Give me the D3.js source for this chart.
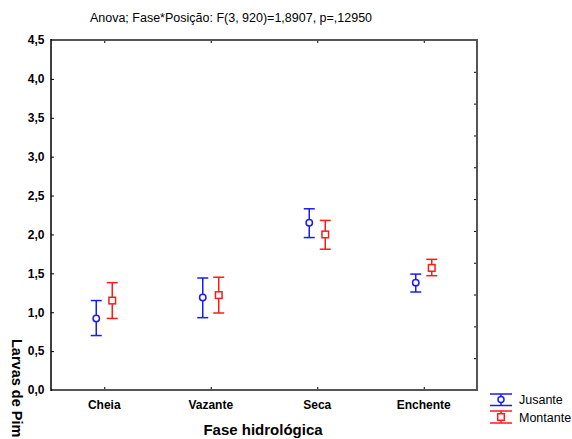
<!DOCTYPE html>
<html><head><meta charset="utf-8">
<script src="https://cdn.jsdelivr.net/npm/d3@7"></script>
<style>body{margin:0;background:#fff}svg{display:block}text{font-family:"Liberation Sans",Arial,sans-serif}</style>
</head><body><svg id="c" width="572" height="439"></svg>
<script>
const categories = ["Cheia","Vazante","Seca","Enchente"];
const seriesNames = ["Jusante","Montante"];
const jusanteMean = [0.92, 1.19, 2.15, 1.38];
const jusanteLow  = [0.70, 0.93, 1.96, 1.26];
const jusanteHigh = [1.15, 1.44, 2.33, 1.49];
const montanteMean = [1.15, 1.22, 2.00, 1.57];
const montanteLow  = [0.92, 0.99, 1.81, 1.47];
const montanteHigh = [1.38, 1.45, 2.18, 1.68];
const yTicks = [0,0.5,1,1.5,2,2.5,3,3.5,4,4.5];
const rightTicks = [1,2,3,4,5,6,7,8,9,10];
const title = "Anova; Fase*Posição: F(3, 920)=1,8907, p=,12950";
const xTitle = "Fase hidrológica";
const yTitle = "Larvas de Pim";

const svg = d3.select("#c");
const L=51, R=477, T=40, B=390;
const x = d3.scaleBand().domain(categories).range([L,R]);
const off = d3.scalePoint().domain(seriesNames).range([-8,8]);
const y = d3.scaleLinear().domain([0,4.5]).range([B,T]);
const y2 = d3.scaleLinear().domain([0,11]).range([B,T]);
const colors = {Jusante:"#1a1aff", Montante:"#ff1a1a"};
const fmt = v => d3.format(".1f")(v).replace(".",",");

// title
svg.append("text").attr("x",231).attr("y",22).attr("text-anchor","middle")
  .attr("font-size",12.5).attr("fill","#000").text(title);

// axes
const gl = svg.append("g").attr("transform",`translate(${L},0)`)
  .call(d3.axisRight(y).tickValues(yTicks).tickSize(3).tickFormat(""));
gl.select(".domain").remove();
gl.selectAll(".tick line").attr("stroke","#000");
svg.append("g").selectAll("text").data(yTicks).join("text")
  .attr("x",44.5).attr("y",d=>y(d)+4.3).attr("text-anchor","end")
  .attr("font-size",12).attr("font-weight","bold").text(fmt);

const gr = svg.append("g").attr("transform",`translate(${R},0)`)
  .call(d3.axisLeft(y2).tickValues(rightTicks).tickSize(3).tickFormat(""));
gr.select(".domain").remove();
gr.selectAll(".tick line").attr("stroke","#000");

const catTicks = categories.map(c=>x(c)+x.bandwidth()/2);
const xs = d3.scaleIdentity();
svg.append("g").attr("transform",`translate(0,${B})`)
  .call(d3.axisTop(xs).tickValues(catTicks).tickSize(3).tickFormat(""))
  .call(g=>{g.select(".domain").remove();g.selectAll(".tick line").attr("stroke","#000");});
svg.append("g").attr("transform",`translate(0,${T})`)
  .call(d3.axisBottom(xs).tickValues(catTicks).tickSize(3).tickFormat(""))
  .call(g=>{g.select(".domain").remove();g.selectAll(".tick line").attr("stroke","#000");});

// frame
svg.append("line").attr("x1",L).attr("x2",R).attr("y1",T).attr("y2",T).attr("stroke","#555").attr("stroke-width",2);
svg.append("line").attr("x1",L).attr("x2",R+1).attr("y1",B).attr("y2",B).attr("stroke","#555").attr("stroke-width",2);
svg.append("line").attr("x1",R).attr("x2",R).attr("y1",T-1).attr("y2",B+1).attr("stroke","#555").attr("stroke-width",2);
svg.append("line").attr("x1",L).attr("x2",L).attr("y1",T-1).attr("y2",B+1).attr("stroke","#000").attr("stroke-width",1.5);

svg.append("g").selectAll("text").data(categories).join("text")
  .attr("x",d=>x(d)+x.bandwidth()/2).attr("y",408.5).attr("text-anchor","middle")
  .attr("font-size",12).attr("font-weight","bold").text(d=>d);

svg.append("text").attr("x",263).attr("y",434.5).attr("text-anchor","middle")
  .attr("font-size",15).attr("font-weight","bold").text(xTitle);
svg.append("text").attr("transform","translate(12,339) rotate(90)")
  .attr("font-size",14.5).attr("font-weight","bold").text(yTitle);

// data
const series = [
  {name:"Jusante", mean:jusanteMean, low:jusanteLow, high:jusanteHigh, shape:"circle"},
  {name:"Montante", mean:montanteMean, low:montanteLow, high:montanteHigh, shape:"square"}
];
const cap = 5.5;
series.forEach(s=>{
  const g = svg.append("g").attr("stroke",colors[s.name]).attr("stroke-width",1.5).attr("fill","#fff");
  categories.forEach((c,i)=>{
    const cx = x(c)+x.bandwidth()/2+off(s.name);
    g.append("line").attr("x1",cx).attr("x2",cx).attr("y1",y(s.low[i])).attr("y2",y(s.high[i]));
    g.append("line").attr("x1",cx-cap).attr("x2",cx+cap).attr("y1",y(s.low[i])).attr("y2",y(s.low[i]));
    g.append("line").attr("x1",cx-cap).attr("x2",cx+cap).attr("y1",y(s.high[i])).attr("y2",y(s.high[i]));
    if(s.shape==="circle") g.append("circle").attr("cx",cx).attr("cy",y(s.mean[i])).attr("r",3.2);
    else g.append("rect").attr("x",cx-3.3).attr("y",y(s.mean[i])-3.3).attr("width",6.6).attr("height",6.6);
  });
});

// legend
const leg = [{name:"Jusante", top:394, mid:399.5, bot:405.5, shape:"circle"},
             {name:"Montante", top:411, mid:417, bot:423, shape:"square"}];
leg.forEach(l=>{
  const g = svg.append("g").attr("stroke",colors[l.name]).attr("stroke-width",1.5).attr("fill","#fff");
  g.append("line").attr("x1",490).attr("x2",512).attr("y1",l.top).attr("y2",l.top);
  g.append("line").attr("x1",490).attr("x2",512).attr("y1",l.bot).attr("y2",l.bot);
  g.append("line").attr("x1",501).attr("x2",501).attr("y1",l.top).attr("y2",l.bot);
  if(l.shape==="circle") g.append("circle").attr("cx",501).attr("cy",l.mid).attr("r",3);
  else g.append("rect").attr("x",497.7).attr("y",l.mid-3.3).attr("width",6.6).attr("height",6.6);
  svg.append("text").attr("x",519).attr("y",l.mid+4.5).attr("font-size",12.5).text(l.name);
});
</script></body></html>
